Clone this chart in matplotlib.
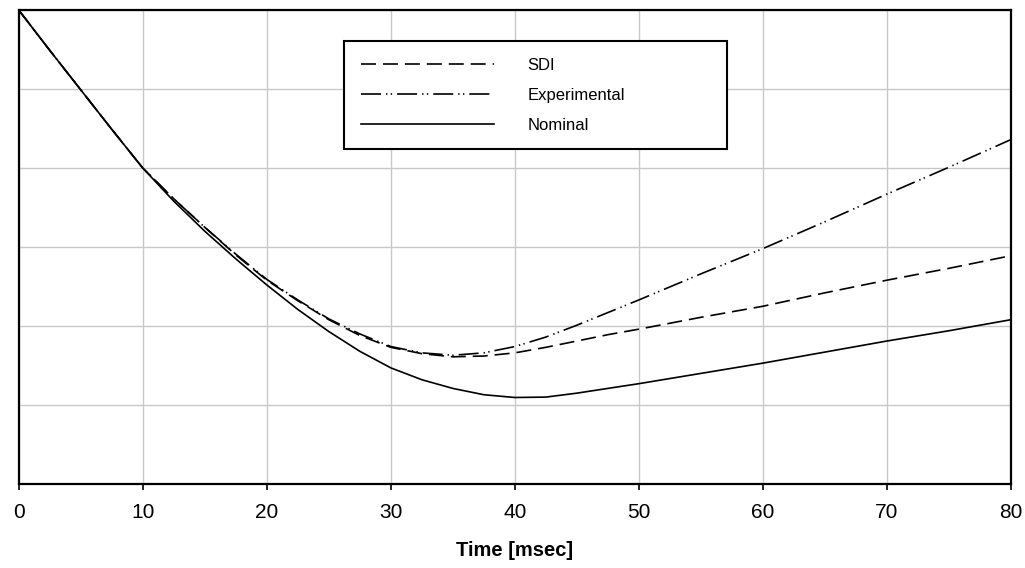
import matplotlib
matplotlib.use("Agg")
import matplotlib.pyplot as plt

plt.rcParams['font.family'] = ['Liberation Sans', 'DejaVu Sans']
plt.rcParams['lines.scale_dashes'] = False

# Data (x in msec, y in grid-division units 0..6)
time_ms = [0, 2.5, 5, 7.5, 10, 12.5, 15, 17.5, 20, 22.5, 25, 27.5, 30, 32.5,
           35, 37.5, 40, 42.5, 45, 47.5, 50, 55, 60, 65, 70, 75, 80]
sdi = [6.00, 5.49, 4.99, 4.49, 4.00, 3.61, 3.25, 2.90, 2.58, 2.32, 2.08, 1.88,
       1.73, 1.65, 1.61, 1.62, 1.66, 1.73, 1.81, 1.89, 1.96, 2.11, 2.25, 2.42,
       2.58, 2.73, 2.89]
experimental = [6.00, 5.49, 4.99, 4.49, 4.00, 3.61, 3.25, 2.91, 2.59, 2.33,
                2.09, 1.90, 1.74, 1.66, 1.63, 1.66, 1.74, 1.86, 2.01, 2.17,
                2.33, 2.66, 2.98, 3.32, 3.67, 4.01, 4.36]
nominal = [6.00, 5.49, 4.99, 4.49, 4.00, 3.58, 3.20, 2.85, 2.52, 2.21, 1.93,
           1.68, 1.47, 1.32, 1.21, 1.13, 1.095, 1.10, 1.15, 1.21, 1.27, 1.40,
           1.53, 1.67, 1.81, 1.94, 2.08]
x_ticks = [0, 10, 20, 30, 40, 50, 60, 70, 80]
y_grid = [0, 1, 2, 3, 4, 5, 6]
labels = ["SDI", "Experimental", "Nominal"]
x_label = "Time [msec]"

W, H = 1025, 568
fig = plt.figure(figsize=(W / 100, H / 100), dpi=100)
ax = fig.add_axes([18.7 / W, 1 - 484 / H, (1011 - 18.7) / W, (484 - 10) / H])

lw = 1.2
ax.plot(time_ms, sdi, color='black', lw=lw, dashes=(10.8, 5.0), label=labels[0])
ax.plot(time_ms, experimental, color='black', lw=lw,
        dashes=(14.4, 3.6, 1.0, 2.4, 1.0, 3.6), label=labels[1])
ax.plot(time_ms, nominal, color='black', lw=lw, label=labels[2])

ax.set_xlim(0, 80)
ax.set_ylim(0, 6)
ax.set_xticks(x_ticks)
ax.set_xticklabels([str(t) for t in x_ticks])
ax.set_yticks(y_grid)
ax.tick_params(axis='y', length=0, labelleft=False)
ax.tick_params(axis='x', direction='out', length=4.5, width=1.2, pad=9,
               labelsize=15, colors='black')
ax.grid(True, color='#c8c8c8', lw=1.0)
ax.set_axisbelow(True)
for s in ax.spines.values():
    s.set_linewidth(1.6)
    s.set_color('black')

ax.set_xlabel(x_label, fontsize=14.5, fontweight='bold', labelpad=14)

# Legend box: x 344..727 px, top at 41 px
x0 = (344 - 18.7) / (1011 - 18.7)
x1 = (727 - 18.7) / (1011 - 18.7)
ytop = (484 - 41) / (484 - 10)
leg = ax.legend(loc='upper left', bbox_to_anchor=(x0, ytop - 0.5, x1 - x0, 0.5),
                mode='expand', fontsize=12, handlelength=8.0, handletextpad=2.0,
                labelspacing=0.9, borderpad=1.0, borderaxespad=0.0,
                fancybox=False, framealpha=1.0, edgecolor='black')
leg.get_frame().set_linewidth(1.5)

fig.savefig("out.png", dpi=100)
